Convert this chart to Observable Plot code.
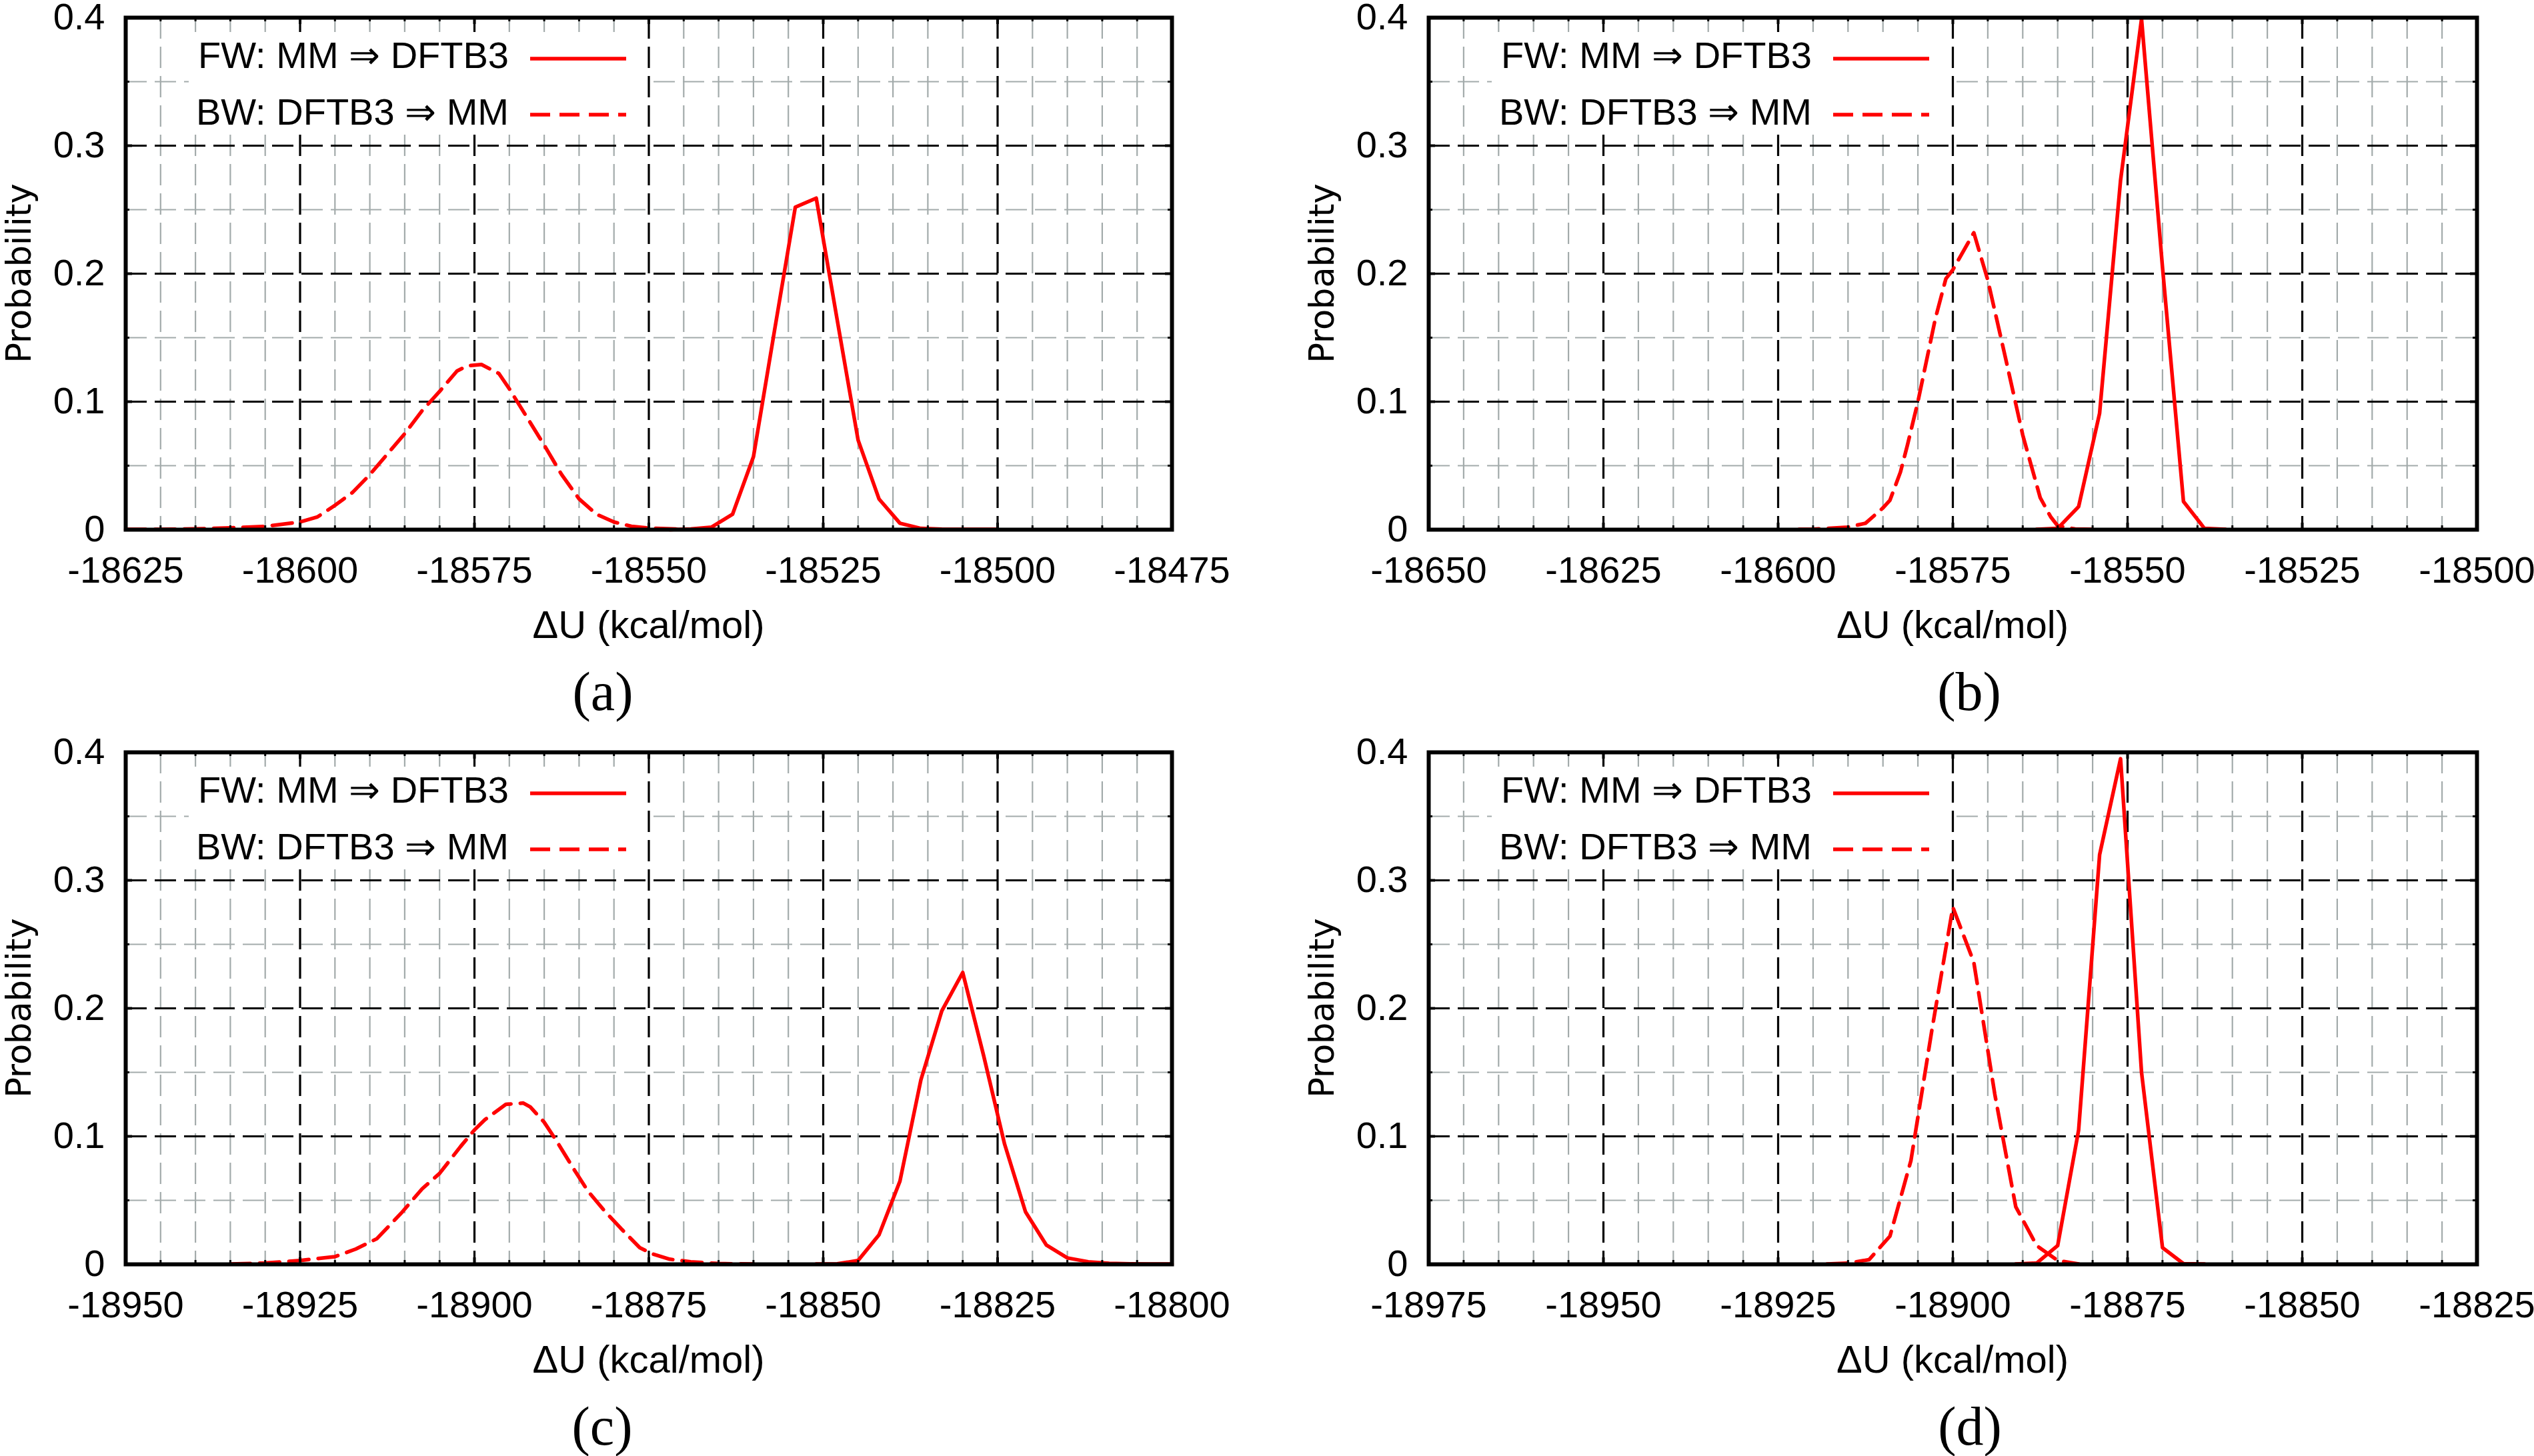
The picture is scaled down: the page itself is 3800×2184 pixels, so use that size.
<!DOCTYPE html>
<html>
<head>
<meta charset="utf-8">
<script src="https://cdn.jsdelivr.net/npm/d3@7"></script>
<script src="https://cdn.jsdelivr.net/npm/@observablehq/plot@0.6"></script>
<style>
  html, body { margin: 0; padding: 0; background: #fff; }
  #root { position: relative; width: 3800px; height: 2184px; overflow: hidden; background: #fff; }
  .wrap { position: absolute; width: 1900px; }
  .wrap svg { display: block; max-width: none !important; }
  .txt { position: absolute; white-space: nowrap; line-height: 1; color: #000; }
  .xlab { font-family: "Liberation Sans", Arial, sans-serif; font-size: 58px; transform: translate(-50%, -50%); }
  .ylab { font-family: "DejaVu Sans", sans-serif; font-size: 51px; transform: translate(-50%, -50%) rotate(-90deg); }
  .cap { font-family: "Liberation Serif", "Times New Roman", serif; font-size: 82px; transform: translate(-50%, -50%); }
  .legend { position: absolute; background: #fff; }
</style>
</head>
<body>
<div id="root"></div>
<script>
// ---------------- data ----------------
const panelLabels = ["(a)", "(b)", "(c)", "(d)"];
const xLabel = "ΔU (kcal/mol)";
const yLabel = "Probability";
const legendFW = "FW: MM ⇒ DFTB3";
const legendBW = "BW: DFTB3 ⇒ MM";

const xTicksA = [-18625, -18600, -18575, -18550, -18525, -18500, -18475];
const xTicksB = [-18650, -18625, -18600, -18575, -18550, -18525, -18500];
const xTicksC = [-18950, -18925, -18900, -18875, -18850, -18825, -18800];
const xTicksD = [-18975, -18950, -18925, -18900, -18875, -18850, -18825];
const yTicks = [0, 0.1, 0.2, 0.3, 0.4];

// [ΔU, probability]
const fwA = [[-18547,0],[-18544,0.0005],[-18541,0.002],[-18538,0.012],[-18535,0.057],[-18532,0.155],
  [-18529,0.252],[-18526,0.259],[-18523,0.164],[-18520,0.070],[-18517,0.024],[-18514,0.005],
  [-18511,0.001],[-18508,0.0004],[-18505,0.0003],[-18502,0.0002],[-18500,0.0002]];
const bwA = [[-18625,0.0002],[-18620,0.0003],[-18615,0.0006],[-18610,0.0014],[-18605,0.0026],[-18600,0.006],
  [-18597.5,0.010],[-18595,0.019],[-18592.5,0.029],[-18590,0.043],[-18587.5,0.059],[-18585,0.075],
  [-18582.5,0.093],[-18580,0.108],[-18577.5,0.124],[-18576,0.128],[-18574,0.129],[-18571.5,0.122],
  [-18570,0.110],[-18567.5,0.088],[-18565,0.066],[-18562.5,0.043],[-18560,0.024],[-18557.5,0.012],
  [-18555,0.006],[-18552.5,0.0026],[-18550,0.0012],[-18545,0.0004],[-18540,0.0001]];

const fwB = [[-18563,0.0002],[-18560,0.001],[-18557,0.018],[-18554,0.091],[-18551,0.273],[-18548,0.399],
  [-18545,0.205],[-18542,0.022],[-18539,0.001],[-18536,0.0002]];
const bwB = [[-18597,0.0002],[-18595,0.0004],[-18590,0.002],[-18587.5,0.005],[-18585,0.017],[-18584,0.023],
  [-18582.5,0.045],[-18581.5,0.066],[-18580,0.100],[-18577.5,0.165],[-18576,0.196],[-18575,0.203],
  [-18572,0.232],[-18570,0.195],[-18567.5,0.135],[-18565,0.074],[-18562.5,0.025],[-18561,0.010],
  [-18560,0.003],[-18557.5,0.0005],[-18555,0.0002]];

const fwC = [[-18851,0.0002],[-18848,0.0004],[-18845,0.003],[-18842,0.023],[-18839,0.065],[-18836,0.144],
  [-18833,0.198],[-18830,0.228],[-18827,0.163],[-18824,0.094],[-18821,0.041],[-18818,0.015],
  [-18815,0.005],[-18812,0.002],[-18809,0.0008],[-18806,0.0004],[-18803,0.0003],[-18800,0.0002]];
const bwC = [[-18935,0.0002],[-18930,0.001],[-18925,0.003],[-18920,0.006],[-18917,0.012],[-18914,0.020],
  [-18910.5,0.040],[-18907.5,0.059],[-18905,0.071],[-18902,0.092],[-18900,0.105],[-18898.5,0.113],
  [-18895.5,0.125],[-18893,0.126],[-18892,0.123],[-18890,0.111],[-18888.3,0.097],[-18885.6,0.073],
  [-18883.7,0.057],[-18881.4,0.042],[-18879,0.028],[-18876.3,0.013],[-18874.4,0.008],[-18872,0.004],
  [-18869,0.002],[-18865,0.0006],[-18860,0.0002]];

const fwD = [[-18891,0.0002],[-18888,0.001],[-18885,0.0146],[-18882,0.105],[-18879,0.320],[-18876,0.395],
  [-18873,0.150],[-18870,0.013],[-18867,0.0005],[-18864,0.0002]];
const bwD = [[-18918,0.0002],[-18915,0.001],[-18912,0.0036],[-18909,0.022],[-18906,0.081],[-18903,0.183],
  [-18900,0.279],[-18897,0.236],[-18894,0.133],[-18891,0.045],[-18888,0.0146],[-18885,0.003],
  [-18882,0.0003]];

// ---------------- layout ----------------
const panels = [
  {xTicks: xTicksA, fw: fwA, bw: bwA, left: 0,    top: 0,    height: 1100, mL: 188, mT: 26, mR: 143, mB: 306, capX: 904},
  {xTicks: xTicksB, fw: fwB, bw: bwB, left: 1900, top: 0,    height: 1100, mL: 242, mT: 26, mR: 86,  mB: 306, capX: 2953},
  {xTicks: xTicksC, fw: fwC, bw: bwC, left: 0,    top: 1100, height: 1084, mL: 188, mT: 28, mR: 143, mB: 288, capX: 903},
  {xTicks: xTicksD, fw: fwD, bw: bwD, left: 1900, top: 1100, height: 1084, mL: 242, mT: 28, mR: 86,  mB: 288, capX: 2954}
];

const RED = "#ff0000";
const GRAY = "#a3abab";
const GRID_DASH = "32,12";
const CURVE_DASH = "30,14";
const FONT = "'Liberation Sans', Arial, sans-serif";
const W = 1900;
const root = document.getElementById("root");

panels.forEach((p, i) => {
  const x0 = p.xTicks[0], x1 = p.xTicks[p.xTicks.length - 1];
  const plotH = p.height - p.mT - p.mB;
  const plotW = W - p.mL - p.mR;
  const minorX = d3.range(x0 + 5, x1, 5).filter(v => !p.xTicks.includes(v));
  const minorY = [0.05, 0.15, 0.25, 0.35];
  const majorX = p.xTicks.slice(1, -1);
  const majorY = yTicks.slice(1, -1);

  // short inward ticks on all four sides of the frame
  const ticksX = (vals, len, sw) => [
    Plot.ruleX(vals, {y1: 0.4, y2: 0, insetTop: plotH - len, stroke: "#000", strokeWidth: sw}),
    Plot.ruleX(vals, {y1: 0.4, y2: 0, insetBottom: plotH - len, stroke: "#000", strokeWidth: sw})
  ];
  const ticksY = (vals, len, sw) => [
    Plot.ruleY(vals, {x1: x0, x2: x1, insetRight: plotW - len, stroke: "#000", strokeWidth: sw}),
    Plot.ruleY(vals, {x1: x0, x2: x1, insetLeft: plotW - len, stroke: "#000", strokeWidth: sw})
  ];

  const chart = Plot.plot({
    width: W,
    height: p.height,
    marginLeft: p.mL, marginRight: p.mR, marginTop: p.mT, marginBottom: p.mB,
    style: {fontFamily: FONT, fontSize: "56px", background: "#fff", color: "#000", overflow: "visible"},
    x: {domain: [x0, x1]},
    y: {domain: [0, 0.4]},
    marks: [
      Plot.ruleX(minorX, {stroke: GRAY, strokeWidth: 2.2, strokeDasharray: GRID_DASH}),
      Plot.ruleY(minorY, {stroke: GRAY, strokeWidth: 2.2, strokeDasharray: GRID_DASH}),
      Plot.ruleX(majorX, {stroke: "#000", strokeWidth: 3.2, strokeDasharray: GRID_DASH}),
      Plot.ruleY(majorY, {stroke: "#000", strokeWidth: 3.2, strokeDasharray: GRID_DASH}),
      Plot.line(p.bw, {x: d => d[0], y: d => d[1], stroke: RED, strokeWidth: 5.5, strokeDasharray: CURVE_DASH}),
      Plot.line(p.fw, {x: d => d[0], y: d => d[1], stroke: RED, strokeWidth: 5.5}),
      ...ticksX(minorX, 6, 3),
      ...ticksX(p.xTicks, 10, 4),
      ...ticksY(minorY, 6, 3),
      ...ticksY(yTicks, 10, 4),
      Plot.frame({stroke: "#000", strokeWidth: 6}),
      Plot.axisX(p.xTicks, {anchor: "bottom", tickSize: 0, tickPadding: 40, tickFormat: d => String(d),
        fontSize: 56, fontFamily: FONT, label: null}),
      Plot.axisY(yTicks, {anchor: "left", tickSize: 0, tickPadding: 31, tickFormat: d => String(d),
        fontSize: 56, fontFamily: FONT, label: null})
    ]
  });

  const wrap = document.createElement("div");
  wrap.className = "wrap";
  wrap.style.left = p.left + "px";
  wrap.style.top = p.top + "px";
  wrap.appendChild(chart);
  root.appendChild(wrap);

  const fl = p.left + p.mL, ft = p.top + p.mT, fb = p.top + p.height - p.mB;

  // legend (opaque box, like the reference's key)
  const lg = document.createElement("div");
  lg.className = "legend";
  const bx = fl + 95, by = ft + 22, bw = 686, bh = 144;
  lg.style.left = bx + "px"; lg.style.top = by + "px";
  lg.style.width = bw + "px"; lg.style.height = bh + "px";
  lg.innerHTML = `<svg width="${bw}" height="${bh}" style="display:block;overflow:visible">
    <text x="480" y="54" text-anchor="end" font-family="${FONT}" font-size="56" fill="#000">${legendFW}</text>
    <line x1="512" x2="656" y1="40" y2="40" stroke="${RED}" stroke-width="5.5"/>
    <text x="480" y="139" text-anchor="end" font-family="${FONT}" font-size="56" fill="#000">${legendBW}</text>
    <line x1="512" x2="656" y1="124" y2="124" stroke="${RED}" stroke-width="5.5" stroke-dasharray="${CURVE_DASH}"/>
  </svg>`;
  root.appendChild(lg);

  const xl = document.createElement("div");
  xl.className = "txt xlab";
  xl.textContent = xLabel;
  xl.style.left = (fl + plotW / 2) + "px";
  xl.style.top = (fb + 143) + "px";
  root.appendChild(xl);

  const yl = document.createElement("div");
  yl.className = "txt ylab";
  yl.textContent = yLabel;
  yl.style.left = (fl - 160) + "px";
  yl.style.top = (ft + plotH / 2) + "px";
  root.appendChild(yl);

  const cp = document.createElement("div");
  cp.className = "txt cap";
  cp.textContent = panelLabels[i];
  cp.style.left = p.capX + "px";
  cp.style.top = (fb + 244) + "px";
  root.appendChild(cp);
});
</script>
</body>
</html>
